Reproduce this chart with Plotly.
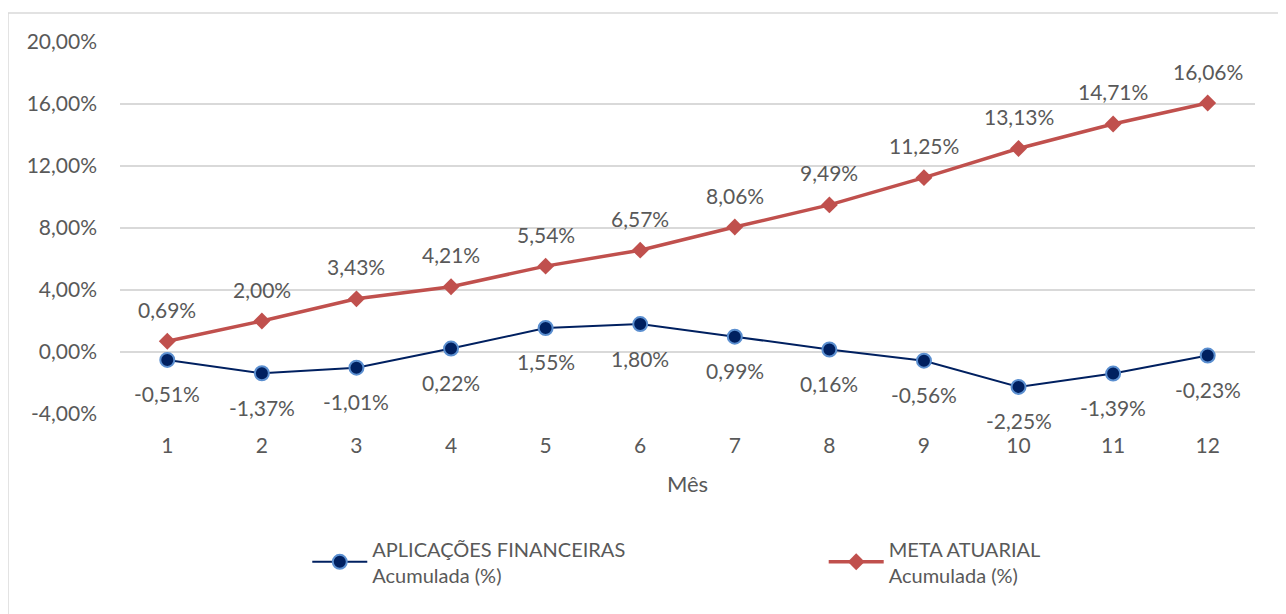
import plotly.graph_objects as go

meses = [1, 2, 3, 4, 5, 6, 7, 8, 9, 10, 11, 12]
aplicacoes = [-0.51, -1.37, -1.01, 0.22, 1.55, 1.80, 0.99, 0.16, -0.56, -2.25, -1.39, -0.23]
meta = [0.69, 2.00, 3.43, 4.21, 5.54, 6.57, 8.06, 9.49, 11.25, 13.13, 14.71, 16.06]
y_ticks = [-4, 0, 4, 8, 12, 16, 20]

FONT = "Lato, Open Sans, sans-serif"
TXT = "#595959"

def fmt(v):
    return f"{v:.2f}".replace(".", ",") + "%"

fig = go.Figure()
fig.add_trace(go.Scatter(
    x=meses, y=aplicacoes, mode="lines+markers",
    name="APLICAÇÕES FINANCEIRAS<br>Acumulada (%)", legend="legend",
    line=dict(color="#002060", width=2),
    marker=dict(symbol="circle", size=14, color="#002060", line=dict(color="#5B8FD0", width=2)),
))
fig.add_trace(go.Scatter(
    x=meses, y=meta, mode="lines+markers",
    name="META ATUARIAL<br>Acumulada (%)", legend="legend2",
    line=dict(color="#C0504D", width=3.5),
    marker=dict(symbol="diamond", size=13, color="#C0504D"),
))

annotations = []
for m, v in zip(meses, meta):
    annotations.append(dict(x=m, y=v, text=fmt(v), showarrow=False, yshift=32,
                            font=dict(family=FONT, size=21, color=TXT)))
for m, v in zip(meses, aplicacoes):
    annotations.append(dict(x=m, y=v, text=fmt(v), showarrow=False, yshift=-34,
                            font=dict(family=FONT, size=21, color=TXT)))

leg_common = dict(orientation="h", xanchor="left", y=-0.31, yanchor="top",
                  font=dict(family=FONT, size=20, color=TXT), itemwidth=55,
                  bgcolor="rgba(0,0,0,0)")

fig.update_layout(
    width=1286, height=614,
    margin=dict(l=112, r=39, t=34, b=208),
    paper_bgcolor="white", plot_bgcolor="white",
    font=dict(family=FONT, size=20, color=TXT),
    showlegend=True,
    legend=dict(x=0.165, **leg_common),
    legend2=dict(x=0.620, **leg_common),
    annotations=annotations,
    shapes=[dict(type="rect", xref="paper", yref="paper",
                 x0=-0.0987, x1=1.022, y0=-0.56, y1=1.078,
                 line=dict(color="#D9D9D9", width=1.5), fillcolor="rgba(0,0,0,0)", layer="below")],
)
fig.update_xaxes(
    range=[0.5, 12.5], tickmode="array", tickvals=meses, ticktext=[str(m) for m in meses],
    showgrid=False, zeroline=False, showline=False, ticks="", automargin=False,
    tickfont=dict(size=21, color=TXT), ticklabelstandoff=17,
    title=dict(text="Mês", font=dict(size=22, color=TXT), standoff=20),
)
fig.update_yaxes(
    range=[-4, 20], tickmode="array", tickvals=y_ticks, ticktext=[fmt(v) for v in y_ticks],
    showgrid=True, gridcolor="#D9D9D9", gridwidth=1.5, automargin=False,
    zeroline=False, showline=False, ticks="",
    tickfont=dict(size=21, color=TXT), ticklabelstandoff=22,
)

fig.write_html("out.html")
